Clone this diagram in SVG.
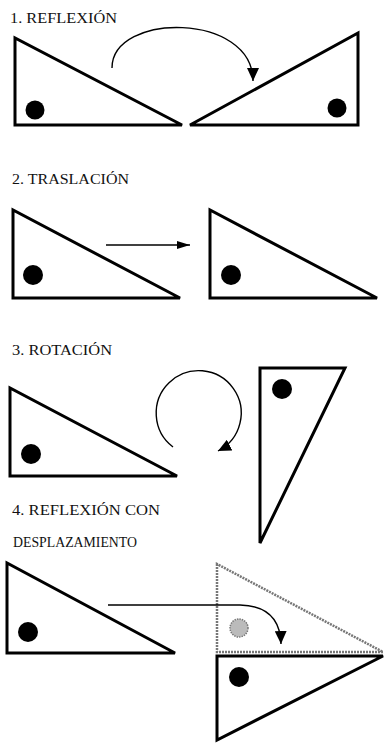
<svg xmlns="http://www.w3.org/2000/svg" width="385" height="744" viewBox="0 0 385 744">
<style>
.t{font-family:"Liberation Serif","DejaVu Serif",serif;font-size:14px;fill:#111}
.tri{fill:#fff;stroke:#000;stroke-width:3;stroke-linejoin:miter}
.dot{fill:#000}
.ghost{fill:#fff;stroke:#777;stroke-width:2.5;stroke-dasharray:2 1}
.gdot{fill:#bbb;stroke:#777;stroke-width:1.5;stroke-dasharray:1.5 1}
.con{fill:none;stroke:#000;stroke-width:1.4}
</style>
<defs>
<marker id="ah" markerUnits="userSpaceOnUse" markerWidth="14" markerHeight="12" refX="13" refY="6" orient="auto">
<path d="M0,0 L13,6 L0,12 Z" fill="#000"/>
</marker>
<marker id="ahs" markerUnits="userSpaceOnUse" markerWidth="14" markerHeight="8" refX="13" refY="4" orient="auto">
<path d="M0,0 L13,4 L0,8 Z" fill="#000"/>
</marker>
</defs>
<rect width="385" height="744" fill="#fff"/>

<g id="labels">
<text class="t" x="10" y="23" textLength="107" lengthAdjust="spacingAndGlyphs">1. REFLEXIÓN</text>
<text class="t" x="12" y="184" textLength="117" lengthAdjust="spacingAndGlyphs">2. TRASLACIÓN</text>
<text class="t" x="12" y="355" textLength="100" lengthAdjust="spacingAndGlyphs">3. ROTACIÓN</text>
<text class="t" x="12" y="515" textLength="148" lengthAdjust="spacingAndGlyphs">4. REFLEXIÓN CON</text>
<text class="t" x="13" y="547" textLength="124" lengthAdjust="spacingAndGlyphs">DESPLAZAMIENTO</text>
</g>

<g id="reflexion-a"><polygon class="tri" points="15,38 15,125 182,125"/><circle class="dot" cx="35" cy="110" r="9.5"/></g>
<g id="reflexion-b"><polygon class="tri" points="358,33 358,125 190,125"/><circle class="dot" cx="337" cy="108" r="9.5"/></g>

<g id="traslacion-a"><polygon class="tri" points="13,210 13,298 180,298"/><circle class="dot" cx="33" cy="275" r="10"/></g>
<g id="traslacion-b"><polygon class="tri" points="210,210 210,298 377,298"/><circle class="dot" cx="231" cy="275" r="10"/></g>

<g id="rotacion-a"><polygon class="tri" points="10,388 10,476 177,476"/><circle class="dot" cx="31" cy="454" r="10"/></g>
<g id="rotacion-b"><polygon class="tri" points="260,368 345,368 260,543"/><circle class="dot" cx="282" cy="389" r="10"/></g>

<g id="desplaz-a"><polygon class="tri" points="7,563 7,653 175,653"/><circle class="dot" cx="28" cy="632" r="10"/></g>
<g id="desplaz-ghost"><polygon class="ghost" points="217,564 217,652 383,652"/><circle class="gdot" cx="239" cy="628" r="9"/></g>
<g id="desplaz-b"><polygon class="tri" points="217,656 383,656 217,740"/><circle class="dot" cx="239" cy="677" r="10"/></g>

<g id="connectors">
<path class="con" d="M112,68 C112,12 253,12 253,81" marker-end="url(#ah)"/>
<path class="con" d="M106,245 L190,245" marker-end="url(#ahs)"/>
<path class="con" d="M173,447 A42.5,42.5 0 1 1 218,451" marker-end="url(#ah)"/>
<path class="con" d="M108,605 L240,605 Q280,606 281,644" marker-end="url(#ah)"/>
</g>
</svg>
